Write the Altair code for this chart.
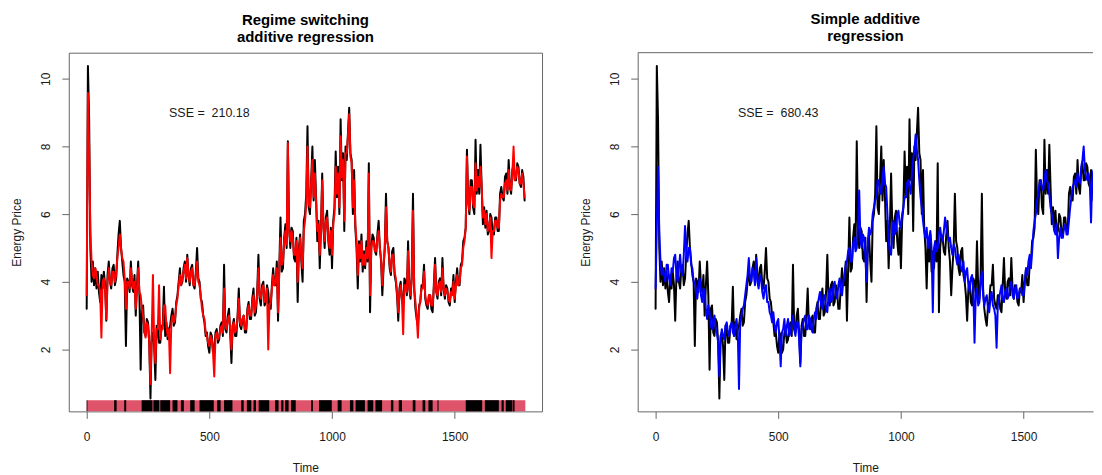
import altair as alt
import pandas as pd

# ---- data ----
TIME = list(range(0, 1790, 5))

OBSERVED = [
    3.2, 10.38, 8.8, 5.0, 4.0, 4.6, 3.9, 4.4, 3.8, 4.3, 3.7, 3.4, 4.2, 3.8, 4.3, 3.9, 2.85, 4.2, 4.6, 4.0,
    3.8, 4.4, 4.5, 3.9, 4.1, 4.8, 5.4, 5.8, 5.0, 4.6, 4.2, 4.0, 2.1, 4.1, 4.0, 3.7, 4.6, 3.9, 3.7, 4.2,
    3.0, 3.9, 4.6, 3.6, 1.4, 3.2, 3.3, 2.5, 2.4, 2.9, 2.8, 2.2, 0.55, 2.4, 2.5, 2.1, 1.1, 2.7, 2.6, 2.2,
    2.2, 2.7, 2.7, 3.85, 2.4, 2.8, 2.3, 2.6, 2.7, 3.0, 3.2, 2.7, 2.8, 3.4, 3.6, 4.0, 4.4, 3.9, 4.0, 4.4,
    4.6, 4.0, 4.8, 4.2, 3.9, 4.4, 4.5, 3.9, 3.8, 4.3, 5.0, 4.1, 4.0, 3.5, 3.4, 3.0, 2.8, 2.4, 2.5, 2.1,
    1.9, 2.5, 2.4, 1.9, 2.0, 2.5, 2.6, 2.2, 2.3, 2.7, 2.8, 2.4, 4.5, 2.6, 2.5, 3.0, 3.2, 2.5, 1.6, 2.7,
    2.9, 2.4, 2.4, 3.0, 3.8, 2.7, 2.6, 2.9, 3.0, 2.5, 2.5, 3.2, 3.4, 2.9, 2.9, 3.5, 3.8, 3.0, 3.1, 3.7,
    4.8, 3.5, 3.3, 3.9, 4.0, 3.3, 3.4, 3.9, 3.7, 3.2, 3.2, 3.9, 4.4, 3.9, 3.9, 4.6, 2.85, 4.4, 5.9, 4.3,
    4.4, 5.3, 5.7, 5.0, 8.15, 5.6, 5.0, 5.6, 5.5, 4.7, 4.6, 5.3, 3.4, 5.0, 5.4, 4.6, 4.0, 5.8, 6.0, 6.6,
    8.6, 6.2, 6.0, 7.0, 8.0, 6.4, 7.6, 6.5, 5.2, 5.8, 4.4, 5.6, 7.2, 5.6, 5.0, 5.9, 6.1, 5.2, 4.8, 5.6,
    4.4, 5.8, 6.2, 7.85, 6.5, 7.4, 6.0, 8.8, 7.0, 7.8, 5.5, 8.0, 7.6, 8.4, 9.14, 7.8, 7.6, 6.0, 7.3, 5.6,
    5.0, 3.8, 5.2, 4.6, 5.4, 4.3, 4.9, 4.4, 5.2, 4.6, 7.5, 3.1, 5.0, 5.4, 5.3, 4.9, 4.8, 5.4, 5.8, 5.0,
    4.6, 3.6, 4.4, 5.0, 6.6, 5.2, 5.0, 4.4, 4.2, 4.9, 5.0, 4.2, 4.0, 3.6, 2.85, 3.8, 4.0, 3.4, 3.3, 4.1,
    4.0, 3.6, 5.2, 3.8, 3.5, 4.2, 6.6, 3.8, 3.2, 2.9, 2.7, 3.3, 3.4, 3.9, 3.9, 4.5, 3.5, 3.3, 3.2, 3.6,
    3.6, 3.2, 3.1, 3.9, 4.7, 3.7, 3.5, 4.0, 4.1, 3.6, 4.7, 3.8, 3.5, 3.9, 3.8, 3.4, 3.3, 3.8, 3.7, 4.2,
    3.4, 4.0, 4.4, 3.9, 3.9, 4.5, 4.6, 5.2, 5.3, 5.6, 7.9, 6.4, 6.0, 7.0, 7.0, 6.2, 6.0, 8.2, 6.6, 7.3,
    6.6, 8.05, 6.8, 5.7, 6.2, 5.6, 6.1, 5.4, 5.5, 6.0, 5.9, 5.4, 5.4, 5.9, 5.9, 5.5, 5.5, 6.6, 6.8, 6.5,
    6.4, 7.1, 7.2, 6.6, 7.6, 6.8, 6.6, 7.3, 7.5, 7.0, 7.0, 7.5, 7.4, 6.9, 6.8, 7.3, 7.1, 6.4,
]

RS_FIT = [
    3.6, 9.58, 8.0, 5.5, 4.6, 4.2, 4.1, 4.4, 4.2, 3.9, 3.9, 3.7, 2.35, 4.0, 4.1, 3.8, 2.9, 4.0, 4.4, 4.0,
    3.9, 4.3, 4.3, 4.0, 4.2, 4.7, 5.0, 5.4, 5.0, 4.7, 4.6, 4.1, 3.2, 4.0, 4.0, 3.8, 4.4, 4.0, 3.8, 4.0,
    3.2, 3.8, 4.4, 3.7, 3.6, 3.2, 3.0, 2.6, 2.35, 2.8, 2.7, 2.2, 0.98, 2.4, 4.2, 2.2, 1.6, 2.6, 2.6, 3.9,
    2.3, 2.6, 2.6, 3.3, 3.3, 2.7, 2.4, 2.6, 1.3, 2.8, 3.0, 2.8, 2.9, 3.3, 3.5, 3.9, 4.2, 3.9, 4.1, 4.3,
    4.5, 4.1, 4.7, 4.2, 4.0, 4.3, 4.4, 3.9, 3.9, 4.2, 4.6, 4.0, 3.9, 3.6, 3.2, 3.0, 2.9, 2.5, 2.4, 2.2,
    2.1, 2.4, 2.3, 1.9, 1.2, 2.4, 2.5, 2.3, 2.4, 2.6, 2.7, 2.5, 3.8, 2.7, 2.6, 2.9, 3.0, 2.6, 2.0, 2.7,
    2.8, 2.5, 2.6, 2.9, 3.5, 2.8, 2.7, 2.9, 3.0, 2.6, 2.6, 3.1, 3.3, 3.0, 3.0, 3.4, 3.6, 3.1, 3.3, 3.6,
    4.4, 3.6, 3.5, 3.8, 3.9, 3.4, 3.5, 3.8, 2.0, 3.3, 3.4, 3.8, 4.2, 3.9, 4.0, 4.4, 3.1, 4.3, 5.3, 4.5,
    4.6, 5.2, 5.5, 5.1, 8.1, 5.5, 5.2, 5.5, 5.3, 4.8, 4.8, 5.2, 4.0, 4.9, 5.3, 4.7, 4.4, 5.5, 5.8, 6.3,
    8.0, 6.3, 6.2, 6.9, 7.6, 6.5, 7.2, 6.4, 5.5, 5.7, 4.8, 5.5, 7.0, 5.6, 5.2, 5.8, 5.9, 5.3, 5.0, 5.5,
    4.8, 5.7, 6.0, 7.4, 6.6, 7.2, 6.2, 8.3, 7.1, 7.6, 5.8, 7.8, 7.8, 8.3, 8.95, 7.7, 7.5, 6.2, 7.0, 5.7,
    5.2, 4.2, 5.1, 4.7, 5.2, 4.5, 4.8, 4.5, 5.0, 4.7, 7.2, 3.6, 5.0, 5.2, 5.2, 4.9, 4.9, 5.3, 5.5, 5.0,
    4.7, 3.9, 4.5, 5.0, 6.2, 5.2, 5.0, 4.5, 4.3, 4.8, 4.8, 4.3, 4.1, 3.7, 3.1, 3.7, 3.9, 3.5, 2.45, 3.9,
    3.9, 3.7, 4.9, 3.8, 3.6, 4.1, 6.1, 3.8, 3.4, 3.0, 2.35, 3.2, 3.5, 3.8, 3.8, 4.3, 3.6, 3.4, 3.3, 3.6,
    3.6, 3.3, 3.3, 3.8, 4.5, 3.7, 3.6, 3.9, 4.0, 3.7, 4.4, 3.8, 3.6, 3.8, 3.7, 3.5, 3.4, 3.7, 3.6, 4.0,
    3.5, 3.9, 4.2, 3.9, 4.0, 4.4, 4.5, 5.0, 5.2, 5.6, 7.7, 6.4, 6.1, 6.8, 6.8, 6.3, 6.2, 7.5, 6.7, 7.1,
    6.8, 7.4, 6.8, 5.9, 6.1, 5.7, 6.0, 5.5, 5.6, 5.9, 4.7, 5.5, 5.5, 5.8, 5.8, 5.6, 5.6, 6.4, 6.6, 6.5,
    6.5, 6.9, 7.0, 6.7, 7.3, 6.8, 6.7, 7.2, 8.0, 7.0, 7.1, 7.4, 7.3, 6.9, 6.9, 7.2, 6.9, 6.5,
]

ADD_FIT = [
    3.8, 5.6, 7.4, 5.5, 4.6, 4.2, 4.4, 4.2, 4.0, 4.5, 4.5, 4.1, 3.9, 4.4, 4.3, 4.7, 4.8, 4.2, 4.0, 4.4,
    4.8, 4.3, 4.2, 4.8, 5.65, 4.9, 4.6, 5.0, 5.0, 4.5, 4.4, 4.0, 4.0, 3.7, 3.5, 3.9, 4.1, 3.6, 3.4, 3.8,
    3.7, 3.2, 2.9, 3.3, 3.1, 2.7, 2.6, 2.9, 3.0, 2.6, 2.5, 2.2, 1.2, 2.3, 2.6, 2.4, 2.3, 2.7, 2.8, 2.5,
    2.4, 2.7, 2.8, 2.5, 2.4, 2.7, 2.9, 2.5, 0.83, 2.8, 3.0, 3.2, 3.3, 3.6, 3.9, 4.2, 4.7, 4.1, 4.0, 4.4,
    4.3, 3.9, 4.7, 4.0, 3.8, 4.2, 4.1, 3.7, 3.5, 3.8, 3.9, 3.4, 3.4, 3.1, 3.0, 2.8, 3.1, 2.7, 2.5, 2.8,
    2.9, 2.3, 1.5, 2.5, 2.6, 2.9, 2.4, 2.7, 2.9, 2.4, 2.5, 2.8, 3.0, 2.6, 2.4, 2.8, 2.8, 2.3, 1.5, 2.6,
    2.7, 2.9, 3.0, 2.6, 2.6, 3.0, 2.9, 2.6, 2.5, 2.9, 3.1, 2.9, 3.3, 3.5, 3.7, 3.3, 3.2, 3.6, 3.6, 3.2,
    3.1, 3.6, 3.8, 3.4, 3.5, 3.9, 4.0, 3.6, 3.5, 3.9, 4.1, 3.7, 3.6, 4.0, 4.2, 4.5, 4.6, 4.9, 5.0, 4.6,
    4.6, 5.1, 5.3, 4.9, 5.0, 5.6, 6.7, 5.2, 5.0, 5.4, 5.3, 4.8, 4.0, 5.2, 5.6, 5.4, 5.5, 6.0, 6.2, 6.4,
    6.5, 7.0, 7.0, 6.6, 6.6, 7.1, 7.4, 6.9, 6.8, 6.0, 5.2, 4.9, 4.8, 5.6, 5.8, 5.4, 5.5, 6.0, 6.1, 5.7,
    5.6, 6.0, 6.2, 6.5, 6.5, 6.9, 7.0, 6.8, 6.6, 7.2, 7.6, 7.9, 8.35, 7.9, 7.6, 7.0, 6.5, 6.2, 5.8, 5.5,
    5.3, 5.6, 5.0, 5.3, 5.5, 5.0, 3.1, 5.0, 5.2, 4.9, 5.0, 5.4, 5.6, 5.3, 5.2, 5.5, 5.9, 5.6, 5.4, 5.2,
    5.3, 5.0, 4.8, 5.1, 5.0, 4.7, 4.5, 4.8, 4.6, 4.4, 4.3, 4.6, 4.0, 4.3, 4.4, 3.9, 3.7, 4.1, 4.2, 3.8,
    2.2, 3.6, 3.8, 3.3, 3.4, 4.0, 4.3, 3.6, 3.3, 3.5, 3.6, 3.2, 3.1, 3.5, 3.7, 3.3, 3.2, 3.0, 2.05, 3.3,
    3.5, 3.7, 3.9, 3.5, 3.4, 3.7, 3.8, 3.5, 3.6, 3.9, 4.0, 3.6, 3.5, 3.8, 3.9, 3.5, 3.6, 3.8, 3.8, 3.6,
    3.6, 4.0, 4.4, 4.2, 4.6, 4.8, 4.4, 4.9, 5.5, 5.8, 6.0, 6.4, 6.6, 6.9, 7.0, 6.8, 6.7, 7.0, 7.3, 7.0,
    6.9, 6.6, 6.2, 6.0, 5.8, 5.5, 5.4, 5.7, 4.7, 5.3, 5.6, 5.3, 5.3, 5.6, 5.7, 5.4, 5.4, 5.8, 6.2, 6.5,
    6.8, 6.9, 7.0, 6.8, 7.2, 7.0, 6.9, 7.4, 7.6, 8.0, 7.3, 7.1, 7.0, 7.2, 6.9, 5.75, 7.1, 7.3,
]

for name, arr in (("OBSERVED", OBSERVED), ("RS_FIT", RS_FIT), ("ADD_FIT", ADD_FIT)):
    if len(arr) != len(TIME):
        raise SystemExit(f"{name} has {len(arr)} values, TIME has {len(TIME)}")

# regime indicator strip: pink span with black (other regime) stretches
REGIME_SPAN_START = [0]
REGIME_SPAN_END = [1788]
REGIME_BLACK_START = [0, 112, 153, 224, 272, 300, 350, 384, 422, 460, 532, 560,
                      630, 653, 680, 701, 768, 793, 809, 833, 915, 947, 1023,
                      1073, 1096, 1145, 1177, 1240, 1272, 1329, 1369, 1393,
                      1430, 1545, 1623, 1691, 1708, 1736]
REGIME_BLACK_END = [3, 122, 161, 268, 296, 340, 370, 396, 440, 518, 546, 594,
                    640, 671, 690, 744, 782, 802, 823, 852, 922, 999, 1039,
                    1087, 1134, 1168, 1204, 1250, 1285, 1340, 1380, 1410,
                    1434, 1612, 1680, 1700, 1734, 1744]

TITLE_LEFT = ["Regime switching", "additive regression"]
TITLE_RIGHT = ["Simple additive", "regression"]
SSE_LEFT = "SSE =\u00a0 210.18"
SSE_RIGHT = "SSE =\u00a0 680.43"
X_TICKS = [0, 500, 1000, 1500]
Y_TICKS = [2, 4, 6, 8, 10]

# ---- chart ----
FONT = "Liberation Sans"
TXT = "#1a1a1a"
FRAME = "#666666"
W_L, W_R, H = 475, 457, 360
Y_DOM = [0.17, 10.77]
X_DOM_L = [-73, 1856]
X_DOM_R = [-73, 1783]   # right panel is cut off by the window edge

df = pd.DataFrame({"Time": TIME, "obs": OBSERVED, "rs": RS_FIT, "add": ADD_FIT})
span_df = pd.DataFrame({"start": REGIME_SPAN_START, "end": REGIME_SPAN_END})
black_df = pd.DataFrame({"start": REGIME_BLACK_START, "end": REGIME_BLACK_END})

ys = alt.Scale(domain=Y_DOM, nice=False, zero=False)


def x_axis(domain):
    return alt.Axis(
        title="Time", values=X_TICKS, format="d", grid=False, domain=domain,
        domainColor=FRAME, tickSize=7, tickColor=FRAME, labelFont=FONT,
        labelFontSize=12, labelColor=TXT, labelPadding=13, titleFont=FONT,
        titleFontSize=12, titleFontWeight="normal", titleColor=TXT,
        titlePadding=20,
    )


def y_axis(domain):
    return alt.Axis(
        title="Energy Price", values=Y_TICKS, format="d", grid=False,
        domain=domain, domainColor=FRAME, tickSize=7, tickColor=FRAME,
        labelFont=FONT, labelFontSize=12, labelColor=TXT, labelPadding=9,
        labelAngle=270, labelAlign="center", labelBaseline="bottom",
        titleFont=FONT, titleFontSize=12, titleFontWeight="normal",
        titleColor=TXT, titlePadding=16,
    )


def line(col, color, xdom, frame_axes):
    return alt.Chart(df).mark_line(
        color=color, strokeWidth=2, strokeJoin="round", strokeCap="round",
        clip=True,
    ).encode(
        x=alt.X("Time:Q", scale=alt.Scale(domain=xdom, nice=False, zero=False),
                axis=x_axis(frame_axes)),
        y=alt.Y(f"{col}:Q", scale=ys, axis=y_axis(frame_axes)),
    )


def sse(label):
    return alt.Chart(pd.DataFrame({"label": [label]})).mark_text(
        font=FONT, fontSize=12.5, color=TXT, align="center", baseline="middle"
    ).encode(x=alt.datum(500), y=alt.datum(9.0), text="label:N")


def title(lines):
    return alt.TitleParams(
        text=lines, font=FONT, fontSize=15, fontWeight="bold", color="black",
        anchor="middle", lineHeight=17, offset=8,
    )


xs_l = alt.Scale(domain=X_DOM_L, nice=False, zero=False)
rug_pink = alt.Chart(span_df).mark_rect(color="#DF536B").encode(
    x=alt.X("start:Q", scale=xs_l, axis=x_axis(False)), x2="end:Q",
    y=alt.datum(0.5), y2=alt.datum(Y_DOM[0]),
)
rug_black = alt.Chart(black_df).mark_rect(color="black").encode(
    x=alt.X("start:Q", scale=xs_l, axis=x_axis(False)), x2="end:Q",
    y=alt.datum(0.5), y2=alt.datum(Y_DOM[0]),
)

left = alt.layer(
    rug_pink, rug_black,
    line("obs", "black", X_DOM_L, False),
    line("rs", "#FF0000", X_DOM_L, False),
    sse(SSE_LEFT),
).properties(width=W_L, height=H, title=title(TITLE_LEFT))

# top edge of the right frame (its right edge lies beyond the window)
top_edge = alt.Chart(pd.DataFrame({"k": [0]})).mark_rule(
    color=FRAME, strokeWidth=1
).encode(x=alt.value(0), x2=alt.value(W_R), y=alt.value(0))

right = alt.layer(
    line("obs", "black", X_DOM_R, True),
    line("add", "#0000FF", X_DOM_R, True),
    sse(SSE_RIGHT),
    top_edge,
).properties(
    width=W_R, height=H, title=title(TITLE_RIGHT),
    view=alt.ViewBackground(stroke="transparent"),
)

chart = alt.hconcat(left, right, spacing=36).properties(
    padding={"left": 2, "top": 3, "right": 0, "bottom": 0},
    background="white",
).configure_view(stroke=FRAME, strokeWidth=1)

chart.save("out.html", embed_options={"renderer": "svg", "actions": False})
